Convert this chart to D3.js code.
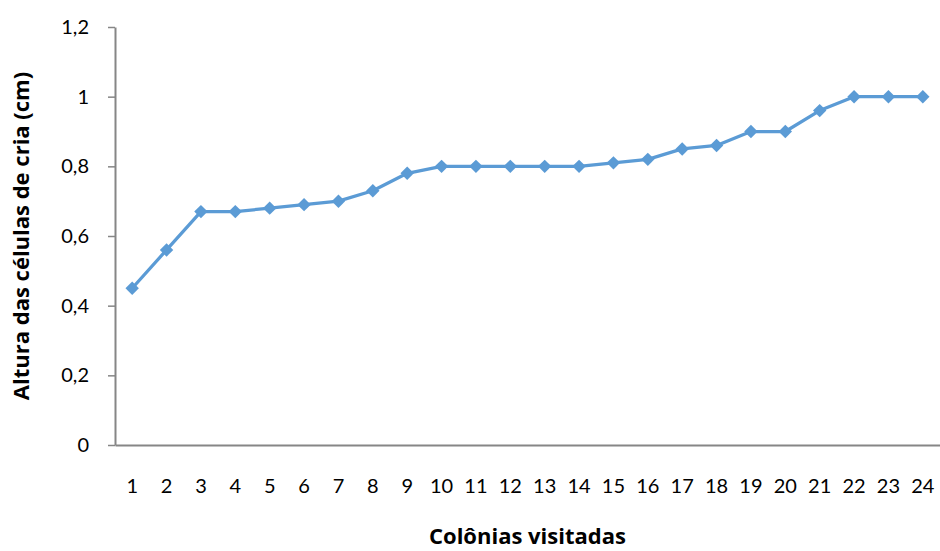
<!DOCTYPE html>
<html>
<head>
<meta charset="utf-8">
<script src="https://cdn.jsdelivr.net/npm/d3@7"></script>
<style>
  html, body { margin: 0; padding: 0; background: #fff; }
  svg { display: block; }
  text { fill: #000; }
</style>
</head>
<body>
<svg id="chart" width="940" height="551"></svg>
<script>
// Colonies visited, in order, and brood cell height (cm) for each
const colonies = ["1","2","3","4","5","6","7","8","9","10","11","12","13","14","15","16","17","18","19","20","21","22","23","24"];
const heights = [0.45, 0.56, 0.67, 0.67, 0.68, 0.69, 0.70, 0.73, 0.78, 0.80, 0.80, 0.80, 0.80, 0.80, 0.81, 0.82, 0.85, 0.86, 0.90, 0.90, 0.96, 1.00, 1.00, 1.00];
const yTicks = [0, 0.2, 0.4, 0.6, 0.8, 1, 1.2];

const xTitle = "Colônias visitadas";
const yTitle = "Altura das células de cria (cm)";

const margin = { left: 115, right: 0, top: 27, bottom: 106 };
const W = 940, H = 551;
const svg = d3.select("#chart");

const tickFont = "Lato, 'Open Sans', sans-serif";
const titleFont = "'Open Sans', Lato, sans-serif";

const x = d3.scaleBand().domain(colonies).range([margin.left, W - margin.right]);
const y = d3.scaleLinear().domain([0, 1.2]).range([H - margin.bottom, margin.top]);

const fmt = v => String(v).replace(".", ",");
const axisColor = "#868686";

// Y axis
const gy = svg.append("g")
  .attr("transform", `translate(${margin.left},0)`)
  .call(d3.axisLeft(y).tickValues(yTicks).tickFormat(fmt).tickSize(7).tickPadding(19).tickSizeOuter(0));
gy.select(".domain").attr("stroke", axisColor).attr("stroke-width", 2);
gy.selectAll(".tick line").attr("stroke", axisColor).attr("stroke-width", 1.5);
gy.selectAll(".tick text").attr("font-size", 20).style("font-family", tickFont).attr("fill", "#000");

// X axis
const gx = svg.append("g")
  .attr("transform", `translate(0,${y(0)})`)
  .call(d3.axisBottom(x).tickSize(0).tickPadding(34).tickSizeOuter(0));
gx.select(".domain").attr("stroke", axisColor).attr("stroke-width", 2);
gx.selectAll(".tick text").attr("font-size", 20).style("font-family", tickFont).attr("fill", "#000");

// Series line
const blue = "#5B9BD5";
const cx = (d, i) => x(colonies[i]) + x.bandwidth() / 2;
svg.append("path")
  .datum(heights)
  .attr("fill", "none")
  .attr("stroke", blue)
  .attr("stroke-width", 3.25)
  .attr("stroke-linejoin", "round")
  .attr("d", d3.line().x(cx).y(d => y(d)));

// Diamond markers
const diamond = d3.symbol().type(d3.symbolSquare).size(90);
svg.append("g").selectAll("path")
  .data(heights)
  .join("path")
  .attr("d", diamond)
  .attr("fill", blue)
  .attr("transform", (d, i) => `translate(${cx(d, i)},${y(d)}) rotate(45)`);

// Axis titles
svg.append("text")
  .attr("x", (margin.left + W - margin.right) / 2)
  .attr("y", 544)
  .attr("text-anchor", "middle")
  .attr("font-size", 22)
  .attr("font-weight", "bold")
  .style("font-family", titleFont)
  .text(xTitle);

svg.append("text")
  .attr("transform", `translate(29,${(y(0) + y(1.2)) / 2}) rotate(-90)`)
  .attr("text-anchor", "middle")
  .attr("font-size", 22)
  .attr("font-weight", "bold")
  .style("font-family", titleFont)
  .text(yTitle);
</script>
</body>
</html>
